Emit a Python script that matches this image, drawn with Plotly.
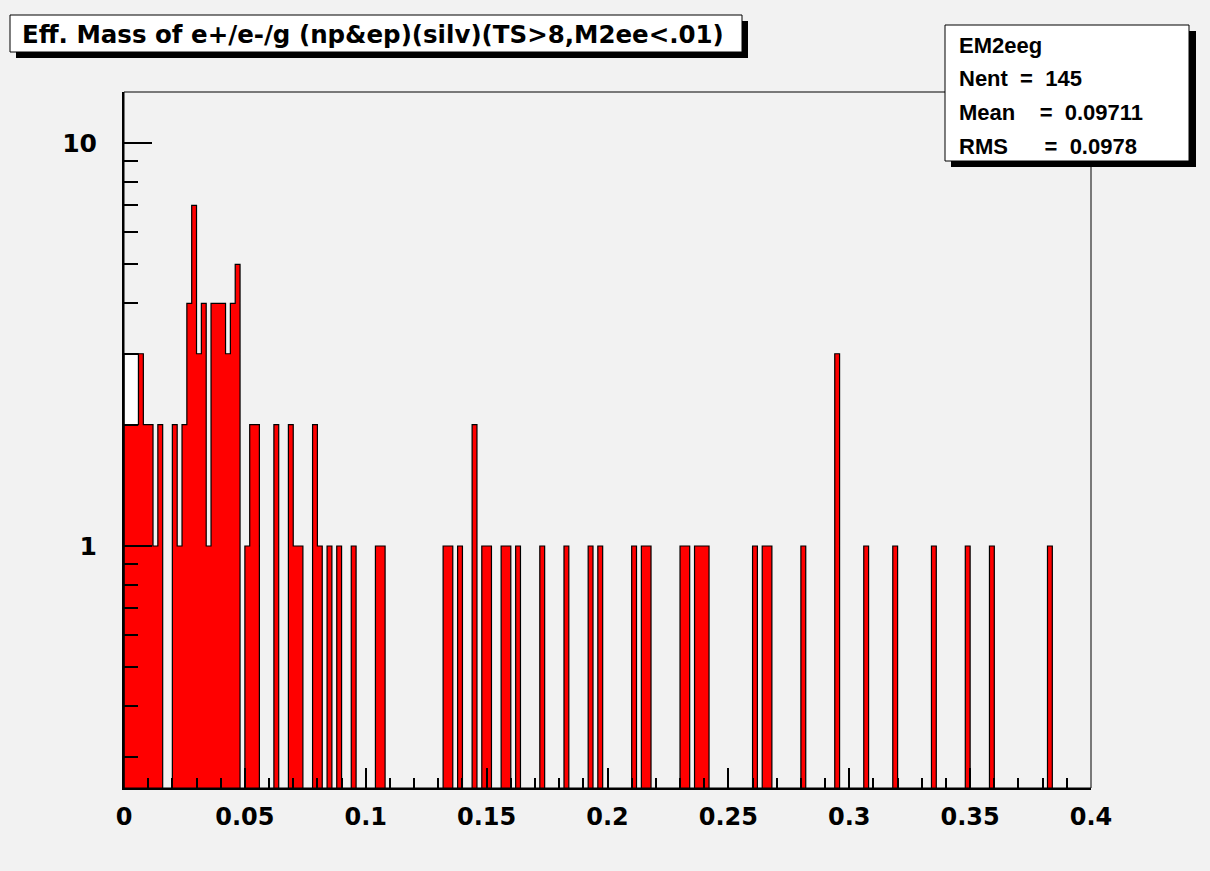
import plotly.graph_objects as go

# ---- data (bin width 0.002, range 0..0.4) ----
n_bins = 200
x_min, x_max = 0.0, 0.4
bin_index = [0, 1, 2, 3, 4, 5, 6, 7, 10, 11, 12, 13, 14, 15, 16, 17, 18, 19, 20, 21,
             22, 23, 25, 26, 27, 31, 34, 35, 36, 39, 40, 42, 44, 47, 52, 53, 66, 67,
             69, 72, 74, 75, 78, 79, 81, 86, 91, 96, 98, 105, 107, 108, 115, 116,
             118, 119, 120, 130, 132, 133, 140, 147, 153, 159, 167, 174, 179, 191]
counts = [2, 2, 2, 3, 2, 2, 1, 2, 2, 1, 2, 4, 7, 3, 4, 1, 4, 4, 4, 3,
          4, 5, 1, 2, 2, 2, 2, 1, 1, 2, 1, 1, 1, 1, 1, 1, 1, 1,
          1, 2, 1, 1, 1, 1, 1, 1, 1, 1, 1, 1, 1, 1, 1, 1,
          1, 1, 1, 1, 1, 1, 1, 3, 1, 1, 1, 1, 1, 1]
# second (outline) histogram, differs only in the first bins
outline_index = [0, 1, 2]
outline_counts = [3, 3, 3]

title_text = "Eff. Mass of e+/e-/g (np&ep)(silv)(TS>8,M2ee<.01)"
stats_lines = ["EM2eeg", "Nent = 145", "Mean  = 0.09711", "RMS   = 0.0978"]
x_tickvals = [0, 0.05, 0.1, 0.15, 0.2, 0.25, 0.3, 0.35, 0.4]
x_ticktext = ["0", "0.05", "0.1", "0.15", "0.2", "0.25", "0.3", "0.35", "0.4"]
y_tickvals = [1, 10]
y_ticktext = ["1", "10"]

# ---- build step polygons through the axis scales ----
bw = (x_max - x_min) / n_bins
floor = 0.05


def step_polygon(idx, vals, full=True):
    content = dict(zip(idx, vals))
    if full:
        rng = range(n_bins)
        xs, ys = [x_min], [floor]
    else:
        rng = range(min(idx), max(idx) + 1)
        xs, ys = [x_min + min(idx) * bw], [floor]
    for i in rng:
        v = content.get(i, 0)
        y = v if v > 0 else floor
        xs += [x_min + i * bw, x_min + (i + 1) * bw]
        ys += [y, y]
    xs.append(xs[-1])
    ys.append(floor)
    return xs, ys


ox, oy = step_polygon(outline_index, outline_counts, full=False)
hx, hy = step_polygon(bin_index, counts)

fig = go.Figure()
fig.add_trace(go.Scatter(x=ox, y=oy, mode="lines", fill="toself",
                         fillcolor="white", line=dict(color="black", width=1.2),
                         hoverinfo="skip", showlegend=False))
fig.add_trace(go.Scatter(x=hx, y=hy, mode="lines", fill="toself",
                         fillcolor="#ff0000", line=dict(color="black", width=1.2),
                         hoverinfo="skip", showlegend=False))

W, H = 1210, 871
L, R, T, B = 124, 1091, 92, 788


def px(x):
    return (x - L) / (R - L)


def py(y):
    return (B - y) / (B - T)


font_b = dict(family="Liberation Sans, Arial, sans-serif", color="black")
font_d = dict(family="DejaVu Sans, sans-serif", color="black")

shapes = [
    # frame top/right
    dict(type="rect", xref="paper", yref="paper", x0=0, x1=1, y0=0, y1=1,
         line=dict(color="black", width=1), layer="above"),
    # title box shadow + box
    dict(type="rect", xref="paper", yref="paper", x0=px(16), x1=px(748), y0=py(58), y1=py(21),
         fillcolor="black", line=dict(width=0)),
    dict(type="rect", xref="paper", yref="paper", x0=px(10), x1=px(742), y0=py(52), y1=py(15),
         fillcolor="white", line=dict(color="black", width=1)),
    # stats box shadow + box
    dict(type="rect", xref="paper", yref="paper", x0=px(951), x1=px(1196), y0=py(167), y1=py(31),
         fillcolor="black", line=dict(width=0), layer="above"),
    dict(type="rect", xref="paper", yref="paper", x0=px(945), x1=px(1189), y0=py(161), y1=py(25),
         fillcolor="white", line=dict(color="black", width=1), layer="above"),
]

annotations = [
    dict(text="<b>" + title_text + "</b>", xref="paper", yref="paper",
         x=px(20), y=py(34), xanchor="left", yanchor="middle", showarrow=False,
         font=dict(size=24.5, **font_d)),
]
stat_y = [45, 79, 112, 146]
for line, yy in zip(stats_lines, stat_y):
    annotations.append(dict(text="<b>" + line.replace(" ", "\u00a0\u00a0") + "</b>",
                            xref="paper", yref="paper", x=px(957), y=py(yy),
                            xanchor="left", yanchor="middle", showarrow=False,
                            font=dict(size=22, **font_b)))

fig.update_layout(
    width=W, height=H,
    margin=dict(l=L, r=W - R, t=T, b=H - B),
    paper_bgcolor="#f2f2f2", plot_bgcolor="#f2f2f2",
    shapes=shapes, annotations=annotations,
    showlegend=False,
)
fig.update_xaxes(range=[x_min, x_max], showgrid=False, zeroline=False,
                 showline=True, linecolor="black", linewidth=2,
                 tickvals=x_tickvals, ticktext=x_ticktext,
                 ticks="inside", ticklen=20, tickwidth=2, tickcolor="black",
                 ticklabelstandoff=6,
                 tickfont=dict(size=24, weight="bold", **font_d),
                 minor=dict(dtick=0.01, tick0=0, ticks="inside", ticklen=10,
                            tickwidth=2, tickcolor="black", showgrid=False))
fig.update_yaxes(type="log", range=[-0.6005, 1.1266], showgrid=False, zeroline=False,
                 showline=True, linecolor="black", linewidth=2,
                 tickvals=y_tickvals, ticktext=y_ticktext,
                 ticks="inside", ticklen=28, tickwidth=2, tickcolor="black",
                 ticklabelstandoff=20,
                 tickfont=dict(size=25, weight="bold", **font_d),
                 minor=dict(dtick="D1", ticks="inside", ticklen=14,
                            tickwidth=2, tickcolor="black", showgrid=False))

fig.write_html("out.html")
